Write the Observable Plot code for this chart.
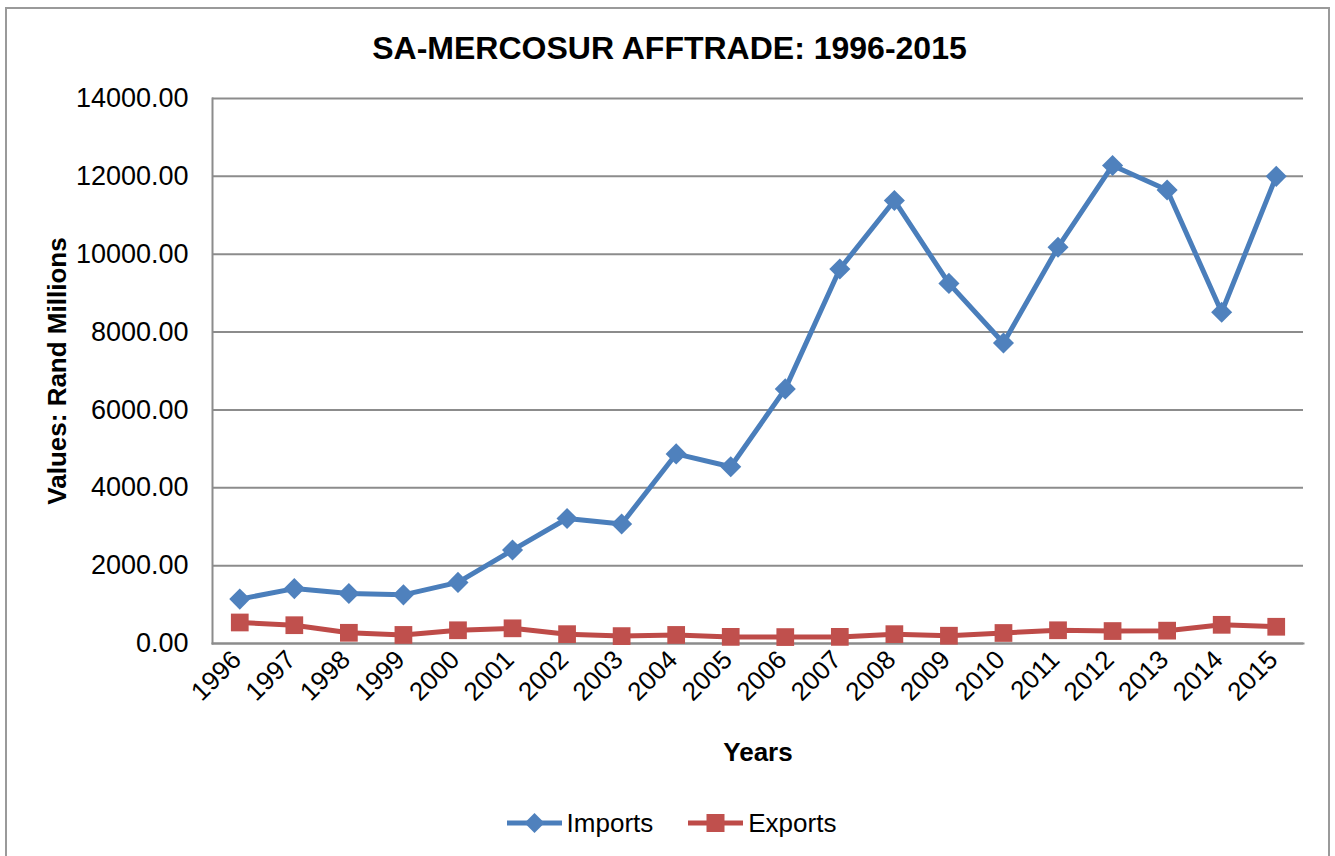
<!DOCTYPE html>
<html>
<head>
<meta charset="utf-8">
<script src="https://cdn.jsdelivr.net/npm/d3@7"></script>
<script src="https://cdn.jsdelivr.net/npm/@observablehq/plot@0.6"></script>
<style>
  html, body { margin: 0; padding: 0; background: #fff; }
  #wrap { position: relative; width: 1335px; height: 856px; overflow: hidden; background: #fff;
          font-family: "Liberation Sans", Arial, sans-serif; }
  #frame { position: absolute; left: 5px; top: 7px; width: 1325px; height: 900px;
           border: 2px solid #9a9a9a; box-sizing: border-box; pointer-events: none; }
  #title { height: 70px; box-sizing: border-box; padding-top: 32px; line-height: 32px;
           font-size: 32px; font-weight: bold; text-align: center; color: #000; padding-left: 4px; }
  #chart svg { display: block; }
  #legend { height: 66px; display: flex; justify-content: center; align-items: center;
            font-size: 26px; color: #000; padding-left: 8px; box-sizing: border-box; }
  .item { display: flex; align-items: center; }
  .item svg { display: block; margin-right: 5px; }
</style>
</head>
<body>
<div id="wrap">
  <div id="frame"></div>
  <div id="title">SA-MERCOSUR AFFTRADE: 1996-2015</div>
  <div id="chart"></div>
  <div id="legend">
    <div class="item" style="margin-right:35px">
      <svg width="55" height="26"><line x1="0" y1="13" x2="55" y2="13" stroke="#4A7EBB" stroke-width="5"/><path d="M27.5,3 L37.5,13 L27.5,23 L17.5,13 Z" fill="#4F81BD"/></svg>
      <span>Imports</span>
    </div>
    <div class="item">
      <svg width="55" height="26"><line x1="0" y1="13" x2="55" y2="13" stroke="#BE4B48" stroke-width="5"/><rect x="18.5" y="4" width="18" height="18" fill="#C0504D"/></svg>
      <span>Exports</span>
    </div>
  </div>
</div>
<script>
const years = ["1996","1997","1998","1999","2000","2001","2002","2003","2004","2005",
               "2006","2007","2008","2009","2010","2011","2012","2013","2014","2015"];
const imports = [1140, 1410, 1285, 1250, 1570, 2400, 3210, 3070, 4870, 4540,
                 6540, 9620, 11380, 9250, 7720, 10180, 12280, 11650, 8510, 12000];
const exports = [540, 470, 275, 220, 340, 390, 240, 190, 220, 170,
                 165, 170, 240, 200, 270, 340, 320, 330, 480, 430];
const yTicks = [0, 2000, 4000, 6000, 8000, 10000, 12000, 14000];

const impData = years.map((y, i) => ({year: y, value: imports[i]}));
const expData = years.map((y, i) => ({year: y, value: exports[i]}));

const grid = "#8c8c8c";
const chart = Plot.plot({
  width: 1335,
  height: 720,
  marginTop: 28,
  marginBottom: 147,
  marginLeft: 212,
  marginRight: 32,
  style: {fontFamily: "'Liberation Sans', Arial, sans-serif", fontSize: "26px", color: "#000", background: "transparent", overflow: "visible"},
  x: {type: "point", domain: years, padding: 0.5, round: false},
  y: {domain: [0, 14000]},
  marks: [
    Plot.gridY(yTicks, {stroke: grid, strokeOpacity: 1, strokeWidth: 2}),
    Plot.axisY(yTicks, {tickSize: 0, tickPadding: 24, tickFormat: d3.format(".2f"), fontSize: 27, label: null}),
    Plot.axisX(years, {tickSize: 0, tickPadding: 12, tickRotate: -45, fontSize: 26, label: null, dx: -3}),
    Plot.frame({anchor: "left", stroke: grid, strokeWidth: 2}),
    Plot.frame({anchor: "bottom", stroke: grid, strokeWidth: 2}),
    Plot.line(expData, {x: "year", y: "value", stroke: "#BE4B48", strokeWidth: 5}),
    Plot.dot(expData, {x: "year", y: "value", symbol: "square", r: 10, fill: "#C0504D", stroke: "none"}),
    Plot.line(impData, {x: "year", y: "value", stroke: "#4A7EBB", strokeWidth: 5}),
    Plot.dot(impData, {x: "year", y: "value", symbol: "diamond2", r: 9.5, fill: "#4F81BD", stroke: "none"}),
    Plot.text(["Values: Rand Millions"], {frameAnchor: "left", dx: -155, rotate: -90, textAnchor: "middle", lineAnchor: "middle", fontWeight: "bold", fontSize: 26, text: d => d}),
    Plot.text(["Years"], {frameAnchor: "bottom", dy: 109, textAnchor: "middle", lineAnchor: "middle", fontWeight: "bold", fontSize: 26, text: d => d})
  ]
});
document.getElementById("chart").appendChild(chart);
</script>
</body>
</html>
